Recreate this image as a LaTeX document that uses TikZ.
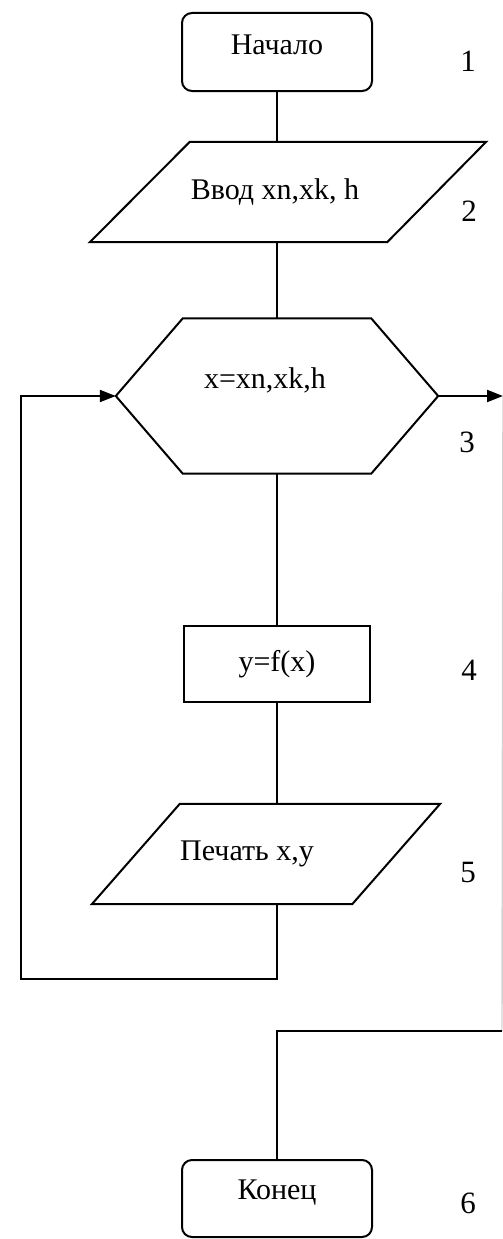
\documentclass[tikz,border=0pt]{standalone}
\usepackage{fontspec}
\setmainfont{Liberation Serif}
\usetikzlibrary{arrows.meta,calc}

\tikzset{
  lbl/.style={font=\fontsize{30}{33}\selectfont, inner sep=0pt},
  num/.style={font=\fontsize{31}{34}\selectfont, inner sep=0pt},
  term/.style={lbl, draw, rounded corners=10pt, line width=2pt,
               minimum width=190pt, minimum height=78pt},
  proc/.style={lbl, draw, line width=2pt,
               minimum width=186pt, minimum height=76pt},
  frame/.style={lbl, minimum width=#1},
  outline/.style={line width=2pt, line join=miter},
  flow/.style={line width=2pt},
  arr/.style={flow, -{Triangle[length=16pt,width=12pt]}}
}

\begin{document}
\begin{tikzpicture}[x=1pt,y=-1pt]
\useasboundingbox (0,0) rectangle (503,1239);

% 1: start
\node[term, text depth=15pt] (b1) at (277,52) {Начало};

% 2: input (parallelogram around an invisible frame)
\node[frame=396pt, minimum height=100pt] (b2) at (288,192)
  {Ввод xn,xk, h\hspace*{26pt}};
\draw[outline] (b2.south west) -- ($(b2.south east)+(-99,0)$)
  -- (b2.north east) -- ($(b2.north west)+(100,0)$) -- cycle;

% 3: loop header (hexagon)
\node[frame=322pt, minimum height=155pt, text depth=36pt] (b3) at (277,396)
  {x=xn,xk,h\hspace*{24pt}};
\draw[outline] ($(b3.north west)+(67,0)$) -- ($(b3.north east)+(-67,0)$)
  -- (b3.east) -- ($(b3.south east)+(-67,0)$)
  -- ($(b3.south west)+(67,0)$) -- (b3.west) -- cycle;

% 4: computation
\node[proc] (b4) at (277,664) {y=f(x)};

% 5: output (parallelogram)
\node[frame=348pt, minimum height=100pt] (b5) at (266,854)
  {Печать x,y\hspace*{38pt}};
\draw[outline] (b5.south west) -- ($(b5.south east)+(-88,0)$)
  -- (b5.north east) -- ($(b5.north west)+(88,0)$) -- cycle;

% 6: end
\node[term, minimum height=77pt, text depth=17pt] (b6) at (277,1198.5) {Конец};

% block numbers
\node[num] (n1) at (468,61) {1};
\node[num] (n2) at (469,211) {2};
\node[num] (n3) at (467,442) {3};
\node[num] (n4) at (469,670) {4};
\node[num] (n5) at (468,872) {5};
\node[num] (n6) at (468,1203) {6};

% routing points
\coordinate (loopcorner) at (21,979);
\coordinate (exitR) at (503,396);
\coordinate (exitB) at (502,1031);

% main flow
\draw[flow] (b1.south) -- (b1.south |- b2.north);
\draw[flow] (b3.north |- b2.south) -- (b3.north);
\draw[flow] (b3.south) -- (b4.north);
\draw[flow] (b4.south) -- (b4.south |- b5.north);

% loop back to the header
\draw[arr] (b4.south |- b5.south) |- (loopcorner) |- (b3.west);

% loop exit
\draw[arr] (b3.east) -- (exitR);
\draw[line width=1.4pt, gray!35] (exitR) -- (exitB);
\draw[flow] (exitB) -| (b6.north);
\end{tikzpicture}
\end{document}
